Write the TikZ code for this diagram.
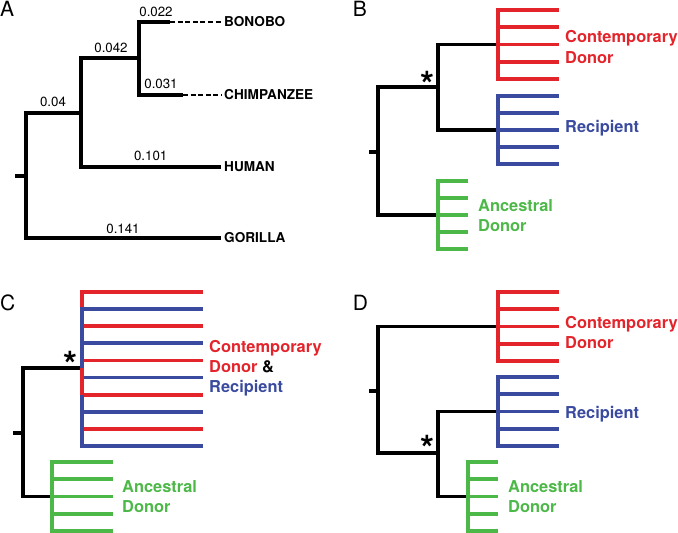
\documentclass[tikz,border=0pt]{standalone}
\usepackage{fontspec}
\setmainfont{TeX Gyre Heros}
\definecolor{cred}{HTML}{E3242B}
\definecolor{cblue}{HTML}{3A4A9E}
\definecolor{cgreen}{HTML}{4CB847}
\begin{document}
\begin{tikzpicture}[x=1pt,y=-1pt,
  brA/.style={line width=4.3pt,line join=miter},
  blk/.style={line width=3.5pt,line join=miter},
  comb/.style={line width=3.7pt,line join=miter},
  dashlink/.style={line width=1.4pt,dash pattern=on 5pt off 2.6pt},
  taxon/.style={anchor=west,inner sep=0pt,font=\fontsize{13.6}{16}\selectfont\bfseries},
  blen/.style={anchor=base,inner sep=0pt,font=\fontsize{13.3}{16}\selectfont},
  panel/.style={anchor=base west,inner sep=0pt,font=\fontsize{21}{24}\selectfont},
  grp/.style={anchor=base west,inner sep=0pt,font=\fontsize{16.4}{20}\selectfont\bfseries},
  star/.style={anchor=base,inner sep=0pt,font=\fontsize{36}{36}\selectfont\bfseries}]
\useasboundingbox (0,0) rectangle (678,533);

% ---------------- Panel A ----------------
\node[panel] (labA) at (0,16.7) {A};
\coordinate (rA) at (26,176);
\coordinate (sA) at (15,176);
\coordinate (A1) at (81,113);
\coordinate (A2) at (139,58);
\coordinate (bon) at (170,22);
\coordinate (chi) at (183,95);
\node[taxon] (bonL) at (224,22) {BONOBO};
\node[taxon] (chiL) at (224,95) {CHIMPANZEE};
\node[taxon] (humL) at (224,167) {HUMAN};
\node[taxon] (gorL) at (224,238) {GORILLA};
\draw[brA] (sA) -- (rA);
\draw[brA] (A1) -| (rA) |- ([xshift=-3pt]gorL.west);
\draw[brA] (A2) -| (A1) |- ([xshift=-3pt]humL.west);
\draw[brA] (bon) -| (A2) |- (chi);
\draw[dashlink] (bon) -- ([xshift=-2pt]bonL.west);
\draw[dashlink] (chi) -- ([xshift=-2pt]chiL.west);
\node[blen] (l1) at (156,16) {0.022};
\node[blen] (l2) at (111,52.7) {0.042};
\node[blen] (l3) at (161,88.3) {0.031};
\node[blen] (l4) at (53,106) {0.04};
\node[blen] (l5) at (150.7,160) {0.101};
\node[blen] (l6) at (123,233) {0.141};

% ---------------- Panel B ----------------
\node[panel] (labB) at (352.7,16.7) {B};
\coordinate (rB) at (378,152);
\coordinate (sB) at (369,152);
\coordinate (B1) at (438,87);
\coordinate (RbB) at (498,44.5);
\coordinate (BbB) at (498,130);
\coordinate (GbB) at (438,215);
\draw[blk] (sB) -- (rB);
\draw[blk] (B1) -| (rB) |- (GbB);
\draw[blk] (RbB) -| (B1) |- (BbB);
\draw[comb,cred] (559,10) -- (498,10) -- (498,79) -- (559,79);
\foreach \y in {27.25,44.5,61.75} \draw[comb,cred] (498,\y) -- (559,\y);
\draw[comb,cblue] (559,96) -- (498,96) -- (498,164) -- (559,164);
\foreach \y in {113,130,147} \draw[comb,cblue] (498,\y) -- (559,\y);
\draw[comb,cgreen] (468,181) -- (438,181) -- (438,249) -- (468,249);
\foreach \y in {198,215,232} \draw[comb,cgreen] (438,\y) -- (468,\y);
\node[star] (stB) at (427,97.5) {*};
\node[grp,text=cred] (tB1) at (565,42) {Contemporary};
\node[grp,text=cred] (tB2) at (565,63) {Donor};
\node[grp,text=cblue] (tB3) at (565,132.5) {Recipient};
\node[grp,text=cgreen] (tB4) at (478,211) {Ancestral};
\node[grp,text=cgreen] (tB5) at (478,231) {Donor};

% ---------------- Panel C ----------------
\node[panel] (labC) at (0,310) {C};
\coordinate (rC) at (23,433);
\coordinate (sC) at (13,433);
\coordinate (Cc) at (82,368);
\coordinate (Cg) at (52,496.5);
\draw[blk] (sC) -- (rC);
\draw[blk] (Cc) -| (rC) |- (Cg);
\foreach \i in {2,4,8} \draw[comb,cred] (82,{292+17.111*\i}) -- (203,{292+17.111*\i});
\foreach \i in {3,5,7} \draw[comb,cblue] (82,{292+17.111*\i}) -- (203,{292+17.111*\i});
\draw[comb,cred] (203,292) -- (82,292) -- (82,309.111);
\draw[comb,cblue] (203,309.111) -- (82,309.111) -- (82,368);
\draw[comb,cred] (82,368) -- (82,394.667) -- (203,394.667);
\draw[comb,cblue] (82,394.667) -- (82,446) -- (203,446);
\draw[comb,cgreen] (113,462) -- (52,462) -- (52,531) -- (113,531);
\foreach \y in {479.25,496.5,513.75} \draw[comb,cgreen] (52,\y) -- (113,\y);
\node[star] (stC) at (70.5,377.5) {*};
\node[grp,text=cred] (tC1) at (209,352.3) {Contemporary};
\node[grp] (tC2) at (209,372.3) {\textcolor{cred}{Donor} \&};
\node[grp,text=cblue] (tC3) at (209,392.3) {Recipient};
\node[grp,text=cgreen] (tC4) at (122,492.7) {Ancestral};
\node[grp,text=cgreen] (tC5) at (122,512.7) {Donor};

% ---------------- Panel D ----------------
\node[panel] (labD) at (352.7,310) {D};
\coordinate (rD) at (378,391);
\coordinate (sD) at (369,391);
\coordinate (RbD) at (498,326.5);
\coordinate (D1) at (438,453);
\coordinate (BbD) at (498,411.5);
\coordinate (GbD) at (468,496.5);
\draw[blk] (sD) -- (rD);
\draw[blk] (RbD) -| (rD) |- (D1);
\draw[blk] (BbD) -| (D1) |- (GbD);
\draw[comb,cred] (559,292) -- (498,292) -- (498,361) -- (559,361);
\foreach \y in {309.25,326.5,343.75} \draw[comb,cred] (498,\y) -- (559,\y);
\draw[comb,cblue] (559,377) -- (498,377) -- (498,446) -- (559,446);
\foreach \y in {394.25,411.5,428.75} \draw[comb,cblue] (498,\y) -- (559,\y);
\draw[comb,cgreen] (498,462) -- (468,462) -- (468,531) -- (498,531);
\foreach \y in {479.25,496.5,513.75} \draw[comb,cgreen] (468,\y) -- (498,\y);
\node[star] (stD) at (427,461.5) {*};
\node[grp,text=cred] (tD1) at (565,328) {Contemporary};
\node[grp,text=cred] (tD2) at (565,348) {Donor};
\node[grp,text=cblue] (tD3) at (565,418) {Recipient};
\node[grp,text=cgreen] (tD4) at (508,492.7) {Ancestral};
\node[grp,text=cgreen] (tD5) at (508,512.7) {Donor};
\end{tikzpicture}
\end{document}
